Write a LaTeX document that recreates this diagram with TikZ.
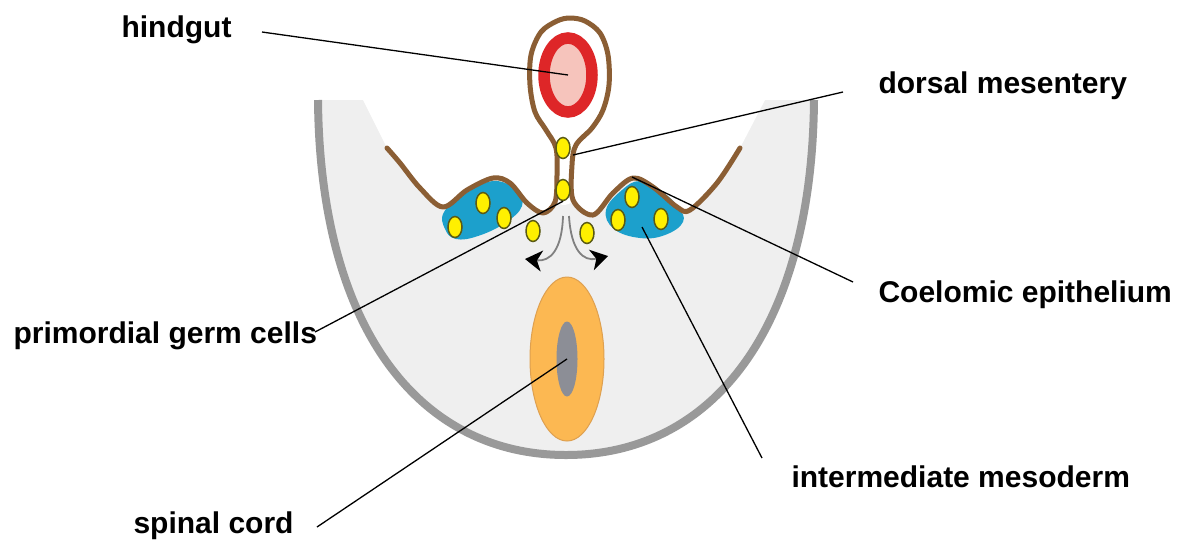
\documentclass[tikz,border=0pt]{standalone}
\usepackage{fontspec}
\setmainfont{Liberation Sans}
\usetikzlibrary{shapes.geometric,arrows.meta}

\definecolor{bodygray}{RGB}{239,239,239}
\definecolor{rimgray}{RGB}{153,153,153}
\definecolor{membranebrown}{RGB}{139,94,52}
\definecolor{gutred}{RGB}{222,38,40}
\definecolor{gutpink}{RGB}{246,196,188}
\definecolor{mesoblue}{RGB}{28,160,204}
\definecolor{cellyellow}{RGB}{255,240,0}
\definecolor{cellrim}{RGB}{90,90,20}
\definecolor{cordorange}{RGB}{252,184,82}
\definecolor{cordrim}{RGB}{222,160,80}
\definecolor{canalgray}{RGB}{140,142,150}

% coelomic lining, left wall -> stalk -> gut loop -> stalk -> right wall
\def\membrane{plot[smooth,tension=0.55] coordinates {(387,148) (400,163) (420,188) (443,207) (467,190) (493,178) (510,183) (527,203) (543,213) (555,202) (557,175) (556,148) (546,130) (535,112) (530,85) (531,55) (541,32) (557,21) (570,18) (585,21) (600,33) (608,55) (609,85) (603,110) (592,128) (576,145) (572,165) (573,200) (593,215) (613,193) (633,178) (653,187) (677,207) (690,210) (717,183) (740,148)}}
\def\bodyrim{(318,100) .. controls (320,330) and (420,455) .. (566,455) .. controls (712,455) and (812,330) .. (814,100)}

\begin{document}
\begin{tikzpicture}[x=1pt,y=-1pt,
  cell/.style={ellipse,draw=cellrim,fill=cellyellow,line width=1.5pt,minimum width=14pt,minimum height=21pt,inner sep=0pt},
  tag/.style={anchor=base west,font=\fontsize{30}{36}\selectfont\bfseries},
  pointer/.style={line width=1.3pt},
  flow/.style={draw=gray,line width=1.8pt,-{Stealth[black,length=17pt,width=21pt,inset=5pt]}}]

       \useasboundingbox (0,0) rectangle (1191,550);

       % embryo body
       \fill[bodygray] \bodyrim -- cycle;
       \draw[rimgray,line width=8pt] \bodyrim;
       \fill[white] \membrane -- (765,100) -- (363,100) -- cycle;
       \fill[white] plot[smooth cycle,tension=0.55] coordinates {(557,200) (556,148) (546,130) (535,112) (530,85) (531,55) (541,32) (557,21) (570,18) (585,21) (600,33) (608,55) (609,85) (603,110) (592,128) (576,145) (572,165) (573,200)};

       % intermediate mesoderm
       \fill[mesoblue] plot[smooth cycle,tension=0.7] coordinates {(444,212) (465,194) (493,181) (516,190) (522,206) (505,223) (478,236) (456,239) (445,229)};
       \fill[mesoblue] plot[smooth cycle,tension=0.7] coordinates {(606,210) (622,190) (640,181) (660,190) (678,207) (683,222) (665,235) (640,238) (614,229)};

       \draw[membranebrown,line width=5pt,line cap=round,line join=round] \membrane;

       \node[ellipse,draw=gutred,fill=gutpink,line width=11.5pt,minimum width=48pt,minimum height=74pt,inner sep=0pt] (gut) at (568,75) {};

       % germ cells
       \node[cell] (pgc1) at (563,148) {};
       \node[cell] (pgc2) at (563,190) {};
       \node[cell] (pgc3) at (455,227) {};
       \node[cell] (pgc4) at (483,203) {};
       \node[cell] (pgc5) at (504,218) {};
       \node[cell] (pgc6) at (533,231) {};
       \node[cell] (pgc7) at (587,233) {};
       \node[cell] (pgc8) at (618,220) {};
       \node[cell] (pgc9) at (632,197) {};
       \node[cell] (pgc10) at (661,219) {};

       \coordinate (split) at (566,216);
       \coordinate (leftgo) at (525,259);
       \coordinate (rightgo) at (608,256);
       \draw[flow] ([xshift=-3pt]split) .. controls (562,250) and (550,262) .. (leftgo);
       \draw[flow] ([xshift=3pt]split) .. controls (571,250) and (583,262) .. (rightgo);

       % spinal cord
       \node[ellipse,draw=cordrim,fill=cordorange,line width=1pt,minimum width=74pt,minimum height=164pt,inner sep=0pt] (cord) at (567,359) {};
       \node[ellipse,fill=canalgray,minimum width=21pt,minimum height=75pt,inner sep=0pt] (canal) at (567,359) {};

       % labels
       \node[tag] (hindgut) at (118,37) {hindgut};
       \node[tag] (dorsal) at (875,93) {dorsal mesentery};
       \node[tag] (coelomic) at (875,302) {Coelomic epithelium};
       \node[tag] (germ) at (10,343) {primordial germ cells};
       \node[tag] (spinal) at (130,533) {spinal cord};
       \node[tag] (inter) at (788,487) {intermediate mesoderm};

       \coordinate (hindgut-l) at (262,32);
       \coordinate (dorsal-l) at (843,92);
       \coordinate (coelomic-l) at (853,282);
       \coordinate (germ-l) at (315,332);
       \coordinate (spinal-l) at (317,527);
       \coordinate (inter-l) at (762,458);
       \coordinate (stalk) at (573,155);
       \coordinate (lining) at (632,177);
       \coordinate (ridge) at (642,227);

       \draw[pointer] (hindgut-l) -- (gut.center);
       \draw[pointer] (dorsal-l) -- (stalk);
       \draw[pointer] (coelomic-l) -- (lining);
       \draw[pointer] (germ-l) -- (pgc2.south);
       \draw[pointer] (spinal-l) -- (canal.center);
       \draw[pointer] (inter-l) -- (ridge);
     \end{tikzpicture}
\end{document}
